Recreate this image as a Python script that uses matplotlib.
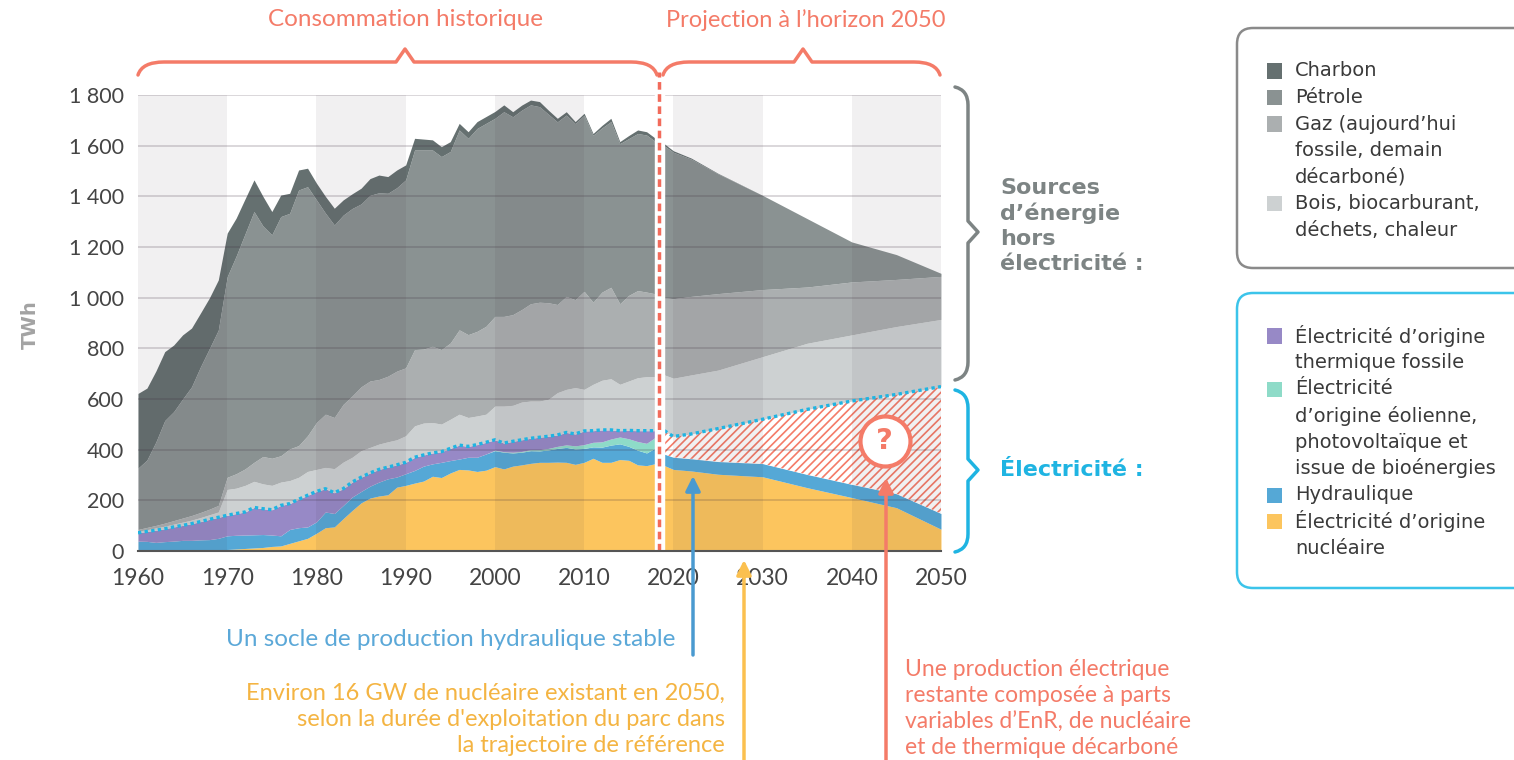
import numpy as np
import matplotlib
matplotlib.use("Agg")
import matplotlib.pyplot as plt
from matplotlib.path import Path
from matplotlib.patches import PathPatch, FancyBboxPatch, Rectangle, FancyArrowPatch

W, H = 1514, 760

# Consommation historique (TWh), couches de bas en haut
annees_hist = np.arange(1960, 2019)
nucleaire_hist = [0, 0, 1, 1, 2, 2, 3, 3, 4, 5,
                  6, 8, 10, 12, 14, 18, 20, 30, 40, 50,
                  70, 92, 95, 128, 160, 190, 209, 217, 222, 252,
                  259, 268, 276, 295, 290, 308, 322, 320, 314, 319,
                  333, 324, 335, 340, 346, 350, 350, 351, 350, 342,
                  350, 366, 350, 350, 361, 358, 340, 337, 345]
hydraulique_hist = [39, 38, 33, 36, 37, 40, 39, 41, 41, 45,
                    54, 54, 53, 52, 51, 45, 40, 55, 52, 45,
                    45, 62, 53, 52, 53, 45, 47, 55, 63, 40,
                    46, 50, 59, 49, 60, 49, 41, 50, 56, 64,
                    63, 66, 52, 50, 50, 45, 49, 54, 59, 61,
                    55, 45, 60, 68, 62, 55, 58, 50, 62]
enr_hist = [0] * 40 + [2, 2, 3, 3, 4, 5, 6, 8, 10, 12,
                       15, 18, 21, 24, 27, 30, 34, 38, 42]
thermique_hist = [33, 39, 48, 51, 56, 59, 66, 72, 80, 83,
                  81, 86, 91, 108, 102, 100, 120, 102, 112, 125,
                  120, 92, 82, 66, 59, 56, 52, 50, 46, 48,
                  45, 52, 44, 43, 42, 48, 55, 43, 50, 46,
                  41, 34, 43, 46, 45, 49, 48, 45, 49, 47,
                  54, 46, 47, 36, 25, 33, 43, 50, 26]
bois_hist = [6, 7, 9, 10, 11, 13, 14, 16, 18, 21,
             102, 100, 105, 103, 98, 96, 92, 91, 87, 94,
             87, 84, 95, 105, 98, 105, 101, 100, 100, 99,
             105, 124, 126, 120, 109, 115, 122, 114, 113, 111,
             133, 146, 142, 149, 147, 143, 146, 167, 170, 183,
             164, 183, 196, 202, 183, 195, 209, 213, 213]
gaz_hist = [7, 9, 10, 12, 14, 16, 18, 20, 22, 26,
            48, 57, 65, 75, 108, 107, 104, 125, 125, 141,
            185, 210, 202, 228, 242, 252, 262, 255, 259, 271,
            268, 301, 292, 301, 294, 301, 333, 327, 334, 347,
            354, 354, 358, 365, 384, 390, 381, 348, 367, 347,
            387, 324, 348, 361, 318, 338, 344, 334, 327]
petrole_hist = [242, 266, 329, 405, 430, 470, 508, 575, 634, 692,
                792, 859, 928, 990, 910, 882, 944, 930, 1009, 983,
                879, 794, 760, 747, 740, 722, 733, 737, 722, 724,
                742, 788, 786, 775, 762, 756, 789, 775, 801, 801,
                782, 808, 781, 787, 785, 772, 744, 721, 716, 695,
                695, 659, 648, 654, 632, 619, 620, 620, 601]
charbon_hist = [295, 284, 280, 272, 263, 253, 232, 212, 200, 198,
                172, 150, 138, 125, 117, 92, 85, 79, 79, 73,
                66, 66, 66, 60, 58, 62, 66, 70, 66, 70,
                59, 46, 43, 40, 39, 39, 26, 26, 27, 27,
                27, 27, 20, 20, 19, 20, 16, 14, 13, 8,
                8, 7, 10, 13, 8, 12, 14, 13, 13]

# Projection à l'horizon 2050 (TWh)
annees_proj = [2019, 2020, 2022, 2025, 2030, 2035, 2040, 2045, 2050]
nucleaire_proj = [337, 322, 316, 303, 293, 250, 211, 171, 86]
hydraulique_proj = [45, 48, 48, 50, 52, 52, 52, 55, 62]
reste_proj = [93, 82, 98, 130, 175, 257, 329, 392, 501]
bois_proj = [220, 230, 233, 231, 247, 261, 261, 268, 265]
gaz_proj = [305, 314, 310, 302, 265, 222, 209, 186, 170]
petrole_proj = [599, 578, 542, 473, 372, 270, 158, 98, 12]
charbon_proj = [8, 6, 4, 2, 0, 0, 0, 0, 0]

yticks = list(range(0, 1801, 200))
ytick_labels = ["0", "200", "400", "600", "800", "1 000", "1 200", "1 400", "1 600", "1 800"]
xticks = list(range(1960, 2051, 10))

couleurs = {
    "charbon": "#657070", "petrole": "#8a9292", "gaz": "#abafb0", "bois": "#cdd1d2",
    "thermique": "#9789c6", "enr": "#8edbc8", "hydraulique": "#55a8d6", "nucleaire": "#fcc55e",
}
ROUGE = "#f47b68"
CYAN = "#1fb4e2"
GRIS = "#7d8484"


def px(x, y):
    # pixels (origine en haut à gauche) -> pouces de la figure
    return x / 100, (H - y) / 100


fig = plt.figure(figsize=(W / 100, H / 100), dpi=100)
ax = fig.add_axes([138 / W, 1 - 551 / H, 803 / W, 456 / H])
T = fig.dpi_scale_trans

# aires empilées historiques
couches = [nucleaire_hist, hydraulique_hist, enr_hist, thermique_hist,
           bois_hist, gaz_hist, petrole_hist, charbon_hist]
noms = ["nucleaire", "hydraulique", "enr", "thermique", "bois", "gaz", "petrole", "charbon"]
bas = np.zeros(len(annees_hist))
for nom, vals in zip(noms, couches):
    haut = bas + np.array(vals)
    ax.fill_between(annees_hist, bas, haut, color=couleurs[nom], lw=0, zorder=1)
    if nom == "thermique":
        elec_hist = haut.copy()
    bas = haut

# aires empilées projection
plt.rcParams["hatch.linewidth"] = 1.2
couches_p = [nucleaire_proj, hydraulique_proj, reste_proj, bois_proj,
             gaz_proj, petrole_proj, charbon_proj]
noms_p = ["nucleaire", "hydraulique", "reste", "bois", "gaz", "petrole", "charbon"]
bas = np.zeros(len(annees_proj))
for nom, vals in zip(noms_p, couches_p):
    haut = bas + np.array(vals)
    if nom == "reste":
        ax.fill_between(annees_proj, bas, haut, facecolor="white", edgecolor=ROUGE,
                        hatch="////", lw=0, zorder=1)
        elec_proj = haut.copy()
    else:
        ax.fill_between(annees_proj, bas, haut, color=couleurs[nom], lw=0, zorder=1)
    bas = haut

# bandes par décennie et grille
for d in range(1960, 2050, 20):
    ax.axvspan(d, d + 10, color="#3c2c3c", alpha=0.07, lw=0, zorder=2)
for y in yticks[1:]:
    ax.axhline(y, color="#3c2c3c", alpha=0.2, lw=1.3, zorder=2.5)

# total électricité en pointillés
ax.plot(annees_hist, elec_hist, color=CYAN, lw=2.4, ls=(0, (1, 1)), zorder=3)
ax.plot(annees_proj, elec_proj, color=CYAN, lw=2.4, ls=(0, (1, 1)), zorder=3)

# séparation historique / projection
ax.plot([2018.55, 2018.55], [0, 1890], color="white", lw=7.5, zorder=4, clip_on=False,
        solid_capstyle="butt")
ax.plot([2018.4, 2018.4], [0, 1890], color="#f26b5b", lw=2.5, ls=(0, (2.2, 1.3)), zorder=5,
        clip_on=False)

# point d'interrogation
ax.plot([2043.7], [434], marker="o", markersize=36, mfc="white", mec=ROUGE, mew=3, zorder=6)
ax.text(2043.7, 434, "?", color=ROUGE, fontsize=21, fontweight="bold", ha="center",
        va="center", family="DejaVu Sans", zorder=7)

ax.set_xlim(1960, 2050)
ax.set_ylim(0, 1800)
ax.set_yticks(yticks)
ax.set_yticklabels(ytick_labels)
ax.set_xticks(xticks)
for s in ["left", "right", "top"]:
    ax.spines[s].set_visible(False)
ax.spines["bottom"].set_color("#555555")
ax.spines["bottom"].set_linewidth(1.5)
ax.spines["bottom"].set_zorder(6)
ax.tick_params(length=0, labelcolor="#444444")
ax.tick_params(axis="y", pad=10, labelsize=15.5)
ax.tick_params(axis="x", pad=12, labelsize=16.5)
for lab in ax.get_xticklabels() + ax.get_yticklabels():
    lab.set_family("Lato")

fig.text(*px(30, 325), "TWh", transform=T, rotation=90, fontsize=14, fontweight="bold",
         color="#a3a3a3", ha="center", va="center", family="DejaVu Sans")

# accolades du haut
def accolade_h(x0, x1, xp, couleur):
    yb, yh, yp = 75, 62, 49
    pts = [px(x0, yb), px(x0 + 4, yh), px(x0 + 26, yh), px(xp - 9, yh), px(xp, yp),
           px(xp + 9, yh), px(x1 - 26, yh), px(x1 - 4, yh), px(x1, yb)]
    codes = [Path.MOVETO, Path.CURVE3, Path.CURVE3, Path.LINETO, Path.LINETO,
             Path.LINETO, Path.LINETO, Path.CURVE3, Path.CURVE3]
    fig.add_artist(PathPatch(Path(pts, codes), fill=False, ec=couleur, lw=2.5, transform=T,
                             capstyle="round", joinstyle="round"))


def accolade_v(y0, y1, yp, couleur):
    xb, xv, xp = 955, 968, 978
    pts = [px(xb, y0), px(xv, y0 + 3), px(xv, y0 + 18), px(xv, yp - 11), px(xp, yp),
           px(xv, yp + 11), px(xv, y1 - 18), px(xv, y1 - 3), px(xb, y1)]
    codes = [Path.MOVETO, Path.CURVE3, Path.CURVE3, Path.LINETO, Path.LINETO,
             Path.LINETO, Path.LINETO, Path.CURVE3, Path.CURVE3]
    fig.add_artist(PathPatch(Path(pts, codes), fill=False, ec=couleur, lw=2.5, transform=T,
                             capstyle="round", joinstyle="round"))


accolade_h(138, 657, 405, ROUGE)
accolade_h(663, 940, 803, ROUGE)
fig.text(*px(406, 20), "Consommation historique", transform=T, fontsize=17.5, color=ROUGE,
         ha="center", va="center", family="Lato")
fig.text(*px(806, 20), "Projection à l’horizon 2050", transform=T, fontsize=17, color=ROUGE,
         ha="center", va="center", family="Lato")

accolade_v(87, 380, 232, GRIS)
accolade_v(390, 552, 470, CYAN)
for i, ligne in enumerate(["Sources", "d’énergie", "hors", "électricité :"]):
    fig.text(*px(1000, 188 + 25.3 * i), ligne, transform=T, fontsize=16, fontweight="bold",
             color=GRIS, ha="left", va="center", family="DejaVu Sans")
fig.text(*px(1000, 470), "Électricité :", transform=T, fontsize=16, fontweight="bold",
         color=CYAN, ha="left", va="center", family="DejaVu Sans")

# légendes
def legende(y0, y1, bord, y_ligne, items):
    x0, w = 1237, 320
    fig.add_artist(FancyBboxPatch(px(x0, y1), w / 100, (y1 - y0) / 100,
                                  boxstyle="round,pad=0,rounding_size=0.16", fc="white",
                                  ec=bord, lw=1.8, transform=T))
    k = 0
    for nom, texte in items:
        yc = y_ligne + 26.5 * k
        fig.add_artist(Rectangle(px(1267, yc + 7.5), 0.15, 0.15, fc=couleurs[nom], ec="none",
                                 transform=T))
        for ligne in texte.split("\n"):
            fig.text(*px(1295, y_ligne + 26.5 * k), ligne, transform=T, fontsize=14,
                     color="#3a3a3a", ha="left", va="center", family="DejaVu Sans")
            k += 1


legende(28, 268, "#8a8a8a", 71, [
    ("charbon", "Charbon"),
    ("petrole", "Pétrole"),
    ("gaz", "Gaz (aujourd’hui\nfossile, demain\ndécarboné)"),
    ("bois", "Bois, biocarburant,\ndéchets, chaleur"),
])
legende(293, 588, "#3cc4ea", 336, [
    ("thermique", "Électricité d’origine\nthermique fossile"),
    ("enr", "Électricité\nd’origine éolienne,\nphotovoltaïque et\nissue de bioénergies"),
    ("hydraulique", "Hydraulique"),
    ("nucleaire", "Électricité d’origine\nnucléaire"),
])

# flèches et commentaires
def fleche(x, y0, y1, couleur):
    fig.add_artist(FancyArrowPatch(px(x, y0), px(x, y1), arrowstyle="-|>", mutation_scale=22,
                                   lw=2.5, color=couleur, transform=T, shrinkA=0, shrinkB=0))


fleche(693, 655, 476, "#4a9ad0")
fleche(744, 765, 560, "#fbc04f")
fleche(886, 765, 478, ROUGE)

fig.text(*px(675, 640), "Un socle de production hydraulique stable", transform=T, fontsize=17.5,
         color="#5ba8d8", ha="right", va="center", family="Lato")
for i, ligne in enumerate(["Environ 16 GW de nucléaire existant en 2050,",
                           "selon la durée d'exploitation du parc dans",
                           "la trajectoire de référence"]):
    fig.text(*px(725, 693 + 26.5 * i), ligne, transform=T, fontsize=17, color="#f4b442",
             ha="right", va="center", family="Lato")
for i, ligne in enumerate(["Une production électrique", "restante composée à parts",
                           "variables d’EnR, de nucléaire", "et de thermique décarboné"]):
    fig.text(*px(905, 670 + 26 * i), ligne, transform=T, fontsize=16.5, color=ROUGE,
             ha="left", va="center", family="Lato")

fig.savefig("out.png", dpi=100)
